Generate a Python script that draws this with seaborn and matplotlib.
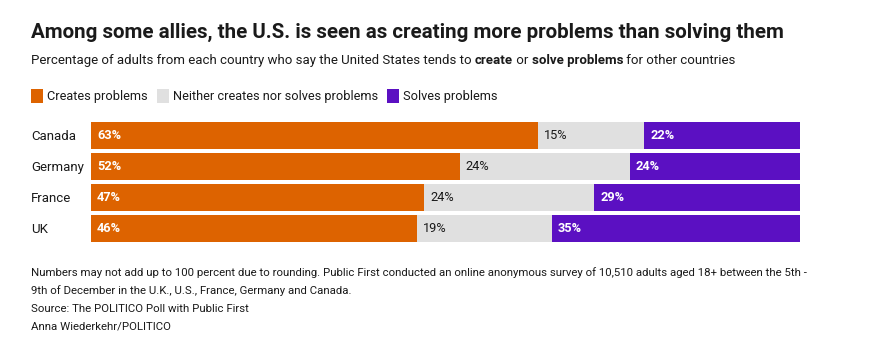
import matplotlib
matplotlib.use("Agg")
import matplotlib.pyplot as plt
from matplotlib.patches import Rectangle
import seaborn as sns
import pandas as pd

countries = ["Canada", "Germany", "France", "UK"]
creates = [63, 52, 47, 46]
neither = [15, 24, 24, 19]
solves = [22, 24, 29, 35]
series_names = ["Creates problems", "Neither creates nor solves problems", "Solves problems"]

ORANGE = "#DD6300"
GREY = "#E0E0E0"
PURPLE = "#5B10C2"
TEXT = "#1a1a1a"

sns.set_theme(style="white")
FONT = ["Roboto", "DejaVu Sans"]
plt.rcParams["font.family"] = FONT

W, H = 871, 346
fig = plt.figure(figsize=(W / 100, H / 100), dpi=100)
fig.patch.set_facecolor("white")


def fx(px):
    return px / W


def fy(py):
    return 1 - py / H


# plot area: 100% spans x 91..800
top_px, bot_px = 119.5, 244.0
ax = fig.add_axes([fx(91), fy(bot_px), fx(800) - fx(91), (bot_px - top_px) / H])

df = pd.DataFrame({"country": countries, "creates": creates,
                   "neither": neither, "solves": solves})
df["c1"] = df["creates"]
df["c2"] = df["creates"] + df["neither"]
df["c3"] = df["creates"] + df["neither"] + df["solves"]

# stacked horizontal bars, widest layer first
bw = 0.87
for col, color in [("c3", PURPLE), ("c2", GREY), ("c1", ORANGE)]:
    sns.barplot(data=df, x=col, y="country", color=color, width=bw,
                orient="h", ax=ax, saturation=1, linewidth=0)

ax.set_xlim(0, 100)
ax.set_ylim(len(countries) - 0.5, -0.5)
ax.set_xlabel("")
ax.set_ylabel("")
ax.set_xticks([])
for s in ax.spines.values():
    s.set_visible(False)

ax.tick_params(axis="y", length=0, pad=(91 - 31) * 0.72)
for lab in ax.get_yticklabels():
    lab.set_ha("left")
    lab.set_fontsize(9.5)
    lab.set_color(TEXT)

# value labels at the start of each segment
off = 6 * 100 / 709
for i in range(len(countries)):
    starts = [0, creates[i], creates[i] + neither[i]]
    vals = [creates[i], neither[i], solves[i]]
    for j, (st, v) in enumerate(zip(starts, vals)):
        if j == 1:
            ax.text(st + off, i, f"{v}%", va="center", ha="left",
                    fontsize=9.2, color=TEXT)
        else:
            ax.text(st + off, i, f"{v}%", va="center", ha="left",
                    fontsize=9.2, color="white", fontweight="bold")

# title
fig.text(fx(31), fy(38), "Among some allies, the U.S. is seen as creating more problems than solving them",
         fontsize=14.8, fontweight="bold", color=TEXT, va="baseline", ha="left")

# subtitle with bold fragments
renderer = fig.canvas.get_renderer()
parts = [("Percentage of adults from each country who say the United States tends to ", "normal"),
         ("create", "bold"), (" or ", "normal"), ("solve problems", "bold"),
         (" for other countries", "normal")]
x = fx(31)
for txt, wt in parts:
    t = fig.text(x, fy(64), txt, fontsize=9.5, fontweight=wt, color=TEXT,
                 va="baseline", ha="left")
    bb = t.get_window_extent(renderer=renderer)
    x += bb.width / W

# legend
x = 31
for name, color in zip(series_names, [ORANGE, GREY, PURPLE]):
    fig.patches.append(Rectangle((fx(x), fy(103)), 12 / W, 14 / H,
                                 transform=fig.transFigure, facecolor=color,
                                 edgecolor="none"))
    t = fig.text(fx(x + 16), fy(100), name, fontsize=9.2, color=TEXT,
                 va="baseline", ha="left")
    bb = t.get_window_extent(renderer=renderer)
    x = x + 16 + bb.width + 9

# footnotes
notes = [
    "Numbers may not add up to 100 percent due to rounding. Public First conducted an online anonymous survey of 10,510 adults aged 18+ between the 5th -",
    "9th of December in the U.K., U.S., France, Germany and Canada.",
    "Source: The POLITICO Poll with Public First",
    "Anna Wiederkehr/POLITICO",
]
for k, line in enumerate(notes):
    fig.text(fx(31), fy(276 + 18 * k), line, fontsize=8.2, color=TEXT,
             va="baseline", ha="left")

fig.savefig("out.png", dpi=100, facecolor="white")
